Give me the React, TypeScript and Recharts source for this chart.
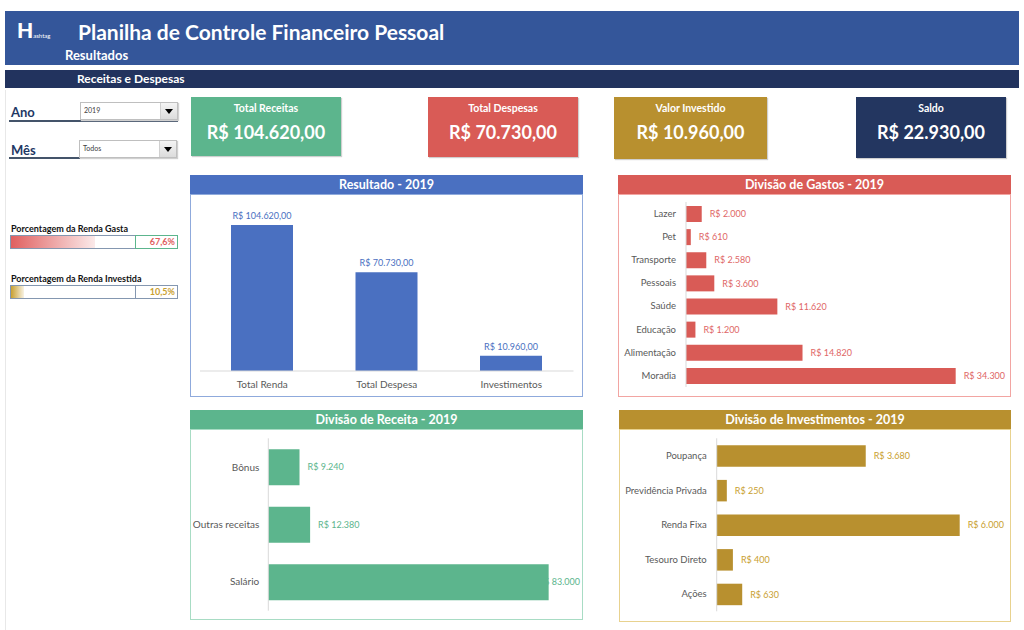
import { BarChart, Bar, XAxis, YAxis, LabelList } from "recharts";

const FONT = "Lato, 'Open Sans', sans-serif";

const resultCategories = ["Total Renda", "Total Despesa", "Investimentos"];
const resultValues = [104620, 70730, 10960];

const expenseCategories = ["Lazer", "Pet", "Transporte", "Pessoais", "Saúde", "Educação", "Alimentação", "Moradia"];
const expenseValues = [2000, 610, 2580, 3600, 11620, 1200, 14820, 34300];

const incomeCategories = ["Bônus", "Outras receitas", "Salário"];
const incomeValues = [9240, 12380, 83000];

const investCategories = ["Poupança", "Previdência Privada", "Renda Fixa", "Tesouro Direto", "Ações"];
const investValues = [3680, 250, 6000, 400, 630];

const kpiTitles = ["Total Receitas", "Total Despesas", "Valor Investido", "Saldo"];
const kpiValues = [104620, 70730, 10960, 22930];

const shareTitles = ["Porcentagem da Renda Gasta", "Porcentagem da Renda Investida"];
const shareValues = [67.6, 10.5];

const GREEN = "#5CB58D";
const RED = "#D95B56";
const GOLD = "#B8902F";
const NAVY = "#233660";
const BLUE = "#4A70C1";
const AXIS_TEXT = "#595959";

function brl(v: number, cents = false) {
  const s = String(Math.round(v)).replace(/\B(?=(\d{3})+(?!\d))/g, ".");
  return "R$ " + s + (cents ? ",00" : "");
}

const toRows = (cats: string[], vals: number[]) => cats.map((name, i) => ({ name, value: vals[i] }));

function Panel({ left, top, width, height, color, border, title, children }: any) {
  return (
    <div style={{ position: "absolute", left, top, width, height }}>
      <div
        style={{
          height: 19,
          background: color,
          color: "#fff",
          fontWeight: 700,
          fontSize: 12.5,
          textAlign: "center",
          lineHeight: "19px",
        }}
      >
        {title}
      </div>
      <div
        style={{
          position: "absolute",
          left: 0,
          top: 19,
          width: width - 2,
          height: height - 21,
          border: `1px solid ${border}`,
        }}
      />
      <div style={{ position: "absolute", left: 0, top: 19 }}>{children}</div>
    </div>
  );
}

// value label to the right of the bar; pushed back inside when it would leave the box
function ClampedLabel(props: any) {
  const { x, y, width, height, value, fill, limit } = props;
  const text = brl(value);
  const estW = text.length * 4.6;
  let tx = x + width + 8;
  if (tx + estW > limit) tx = limit - estW;
  return (
    <text x={tx} y={y + height / 2} dy="0.35em" fill={fill} fontSize={9} fontFamily={FONT}>
      {text}
    </text>
  );
}

function TopLabel(props: any) {
  const { x, y, width, value } = props;
  return (
    <text x={x + width / 2} y={y - 6} textAnchor="middle" fill={BLUE} fontSize={9} fontFamily={FONT}>
      {brl(value, true)}
    </text>
  );
}

function CatTick({ x, y, payload, size }: any) {
  return (
    <text x={x} y={y} dy="0.35em" textAnchor="end" fill={AXIS_TEXT} fontSize={size} fontFamily={FONT}>
      {payload.value}
    </text>
  );
}

function HBar({ data, width, height, margin, yWidth, tickMargin, max, color, labelColor, barSize, tickSize, limit }: any) {
  return (
    <BarChart width={width} height={height} data={data} layout="vertical" margin={margin}>
      <XAxis type="number" hide domain={[0, max]} />
      <YAxis
        type="category"
        dataKey="name"
        width={yWidth}
        tickSize={0}
        tickMargin={tickMargin}
        tickLine={false}
        axisLine={{ stroke: "#D9D9D9" }}
        tick={(p: any) => <CatTick {...p} size={tickSize} />}
        interval={0}
      />
      <Bar dataKey="value" fill={color} barSize={barSize} isAnimationActive={false}>
        <LabelList dataKey="value" content={(p: any) => <ClampedLabel {...p} fill={labelColor} limit={limit} />} />
      </Bar>
    </BarChart>
  );
}

function Dropdown({ left, top, width, text }: any) {
  return (
    <div
      style={{
        position: "absolute",
        left,
        top,
        width,
        height: 16,
        border: "1px solid #BFBFBF",
        boxShadow: "1px 1px 1px #D0D0D0",
        background: "#fff",
      }}
    >
      <span style={{ position: "absolute", left: 3, top: 3, fontSize: 7, color: "#404040" }}>{text}</span>
      <div
        style={{
          position: "absolute",
          right: 0,
          top: 0,
          width: 16,
          height: 16,
          background: "linear-gradient(#f4f4f4, #dcdcdc)",
          borderLeft: "1px solid #d0d0d0",
        }}
      >
        <div
          style={{
            position: "absolute",
            left: 4,
            top: 6,
            width: 0,
            height: 0,
            borderLeft: "4px solid transparent",
            borderRight: "4px solid transparent",
            borderTop: "5px solid #000",
          }}
        />
      </div>
    </div>
  );
}

function ShareBar({ top, title, value, color, cellBorder }: any) {
  return (
    <div style={{ position: "absolute", left: 10, top }}>
      <div style={{ fontSize: 9, fontWeight: 700, color: "#111", marginLeft: 1, height: 12, lineHeight: "12px" }}>
        {title}
      </div>
      <div
        style={{
          position: "relative",
          width: 166,
          height: 12,
          border: "1px solid #8497B0",
          background: "#fff",
        }}
      >
        <div
          style={{
            position: "absolute",
            left: 0,
            top: 0,
            height: 12,
            width: (value / 100) * 124,
            background: `linear-gradient(90deg, ${color}, ${color}22)`,
          }}
        />
        <div
          style={{
            position: "absolute",
            left: 124,
            top: -1,
            width: 39,
            height: 12,
            border: `1px solid ${cellBorder}`,
            textAlign: "right",
            fontSize: 9,
            fontWeight: 700,
            lineHeight: "12px",
            color,
            paddingRight: 2,
            boxSizing: "content-box",
          }}
        >
          {value.toFixed(1).replace(".", ",")}%
        </div>
      </div>
    </div>
  );
}

export default function App() {
  const kpis = [
    { left: 191, top: 97, w: 150, h: 59, bg: GREEN },
    { left: 428, top: 97, w: 150, h: 60, bg: RED },
    { left: 614, top: 97, w: 153, h: 62, bg: GOLD },
    { left: 856, top: 97, w: 150, h: 61, bg: NAVY },
  ];

  return (
    <div
      style={{
        position: "absolute",
        left: 0,
        top: 0,
        width: 1024,
        height: 630,
        background: "#fff",
        fontFamily: FONT,
        overflow: "hidden",
      }}
    >
      {/* header */}
      <div style={{ position: "absolute", left: 5, top: 11, width: 1014, height: 54, background: "#34569A" }}>
        <div style={{ position: "absolute", left: 12, top: 8, color: "#fff", fontWeight: 900, fontSize: 21, lineHeight: "22px" }}>
          H<span style={{ fontSize: 6, fontWeight: 400 }}>ashtag</span>
        </div>
        <div style={{ position: "absolute", left: 73, top: 8, color: "#fff", fontWeight: 700, fontSize: 21, lineHeight: "26px" }}>
          Planilha de Controle Financeiro Pessoal
        </div>
        <div style={{ position: "absolute", left: 60, top: 36, color: "#fff", fontWeight: 700, fontSize: 13, lineHeight: "16px" }}>
          Resultados
        </div>
      </div>
      <div style={{ position: "absolute", left: 5, top: 70, width: 1014, height: 18, background: "#22335E" }}>
        <div style={{ position: "absolute", left: 72, top: 1, color: "#fff", fontWeight: 700, fontSize: 12, lineHeight: "16px" }}>
          Receitas e Despesas
        </div>
      </div>
      <div style={{ position: "absolute", left: 5, top: 90, width: 1, height: 540, background: "#E8E8E8" }} />

      {/* filters */}
      <div style={{ position: "absolute", left: 11, top: 104, fontSize: 13, fontWeight: 700, color: "#1F3864" }}>Ano</div>
      <div style={{ position: "absolute", left: 9, top: 120, width: 169, height: 1.5, background: "#44546A" }} />
      <Dropdown left={80} top={102} width={96} text="2019" />
      <div style={{ position: "absolute", left: 11, top: 142, fontSize: 13, fontWeight: 700, color: "#1F3864" }}>Mês</div>
      <div style={{ position: "absolute", left: 9, top: 157, width: 169, height: 1.5, background: "#44546A" }} />
      <Dropdown left={79} top={140} width={96} text="Todos" />

      <ShareBar top={223} title={shareTitles[0]} value={shareValues[0]} color="#E06060" cellBorder="#5CB58D" />
      <ShareBar top={273} title={shareTitles[1]} value={shareValues[1]} color="#C9A030" cellBorder="#8497B0" />

      {/* KPI cards */}
      {kpis.map((k, i) => (
        <div
          key={kpiTitles[i]}
          style={{
            position: "absolute",
            left: k.left,
            top: k.top,
            width: k.w,
            height: k.h,
            background: k.bg,
            color: "#fff",
            textAlign: "center",
            boxShadow: "1px 1px 1px #cfcfcf",
          }}
        >
          <div style={{ marginTop: 4, fontSize: 10.5, fontWeight: 700, lineHeight: "14px" }}>{kpiTitles[i]}</div>
          <div style={{ marginTop: 5, fontSize: 18, fontWeight: 700, lineHeight: "24px" }}>{brl(kpiValues[i], true)}</div>
        </div>
      ))}

      {/* Resultado */}
      <Panel left={190} top={175} width={393} height={222} color="#4A70C1" border="#8FAADC" title="Resultado - 2019">
        <BarChart
          width={393}
          height={203}
          data={toRows(resultCategories, resultValues)}
          margin={{ top: 9.5, right: 9.5, bottom: 6, left: 10 }}
        >
          <XAxis
            dataKey="name"
            height={20}
            tickLine={false}
            tickMargin={4}
            axisLine={{ stroke: "#D9D9D9" }}
            tick={{ fill: AXIS_TEXT, fontSize: 10, fontFamily: FONT }}
          />
          <YAxis hide domain={[0, 120000]} />
          <Bar dataKey="value" fill={BLUE} barSize={62} isAnimationActive={false}>
            <LabelList dataKey="value" content={(p: any) => <TopLabel {...p} />} />
          </Bar>
        </BarChart>
      </Panel>

      {/* Gastos */}
      <Panel left={618} top={175} width={393} height={222} color={RED} border="#F2A5A2" title="Divisão de Gastos - 2019">
        <HBar
          data={toRows(expenseCategories, expenseValues)}
          width={393}
          height={203}
          margin={{ top: 8, right: 10.5, bottom: 10, left: 8 }}
          yWidth={60}
          tickMargin={10}
          max={40000}
          color={RED}
          labelColor="#E06666"
          barSize={16}
          tickSize={9.5}
          limit={390}
        />
      </Panel>

      {/* Receita */}
      <Panel left={190} top={410} width={393} height={210} color={GREEN} border="#A8DCC4" title="Divisão de Receita - 2019">
        <HBar
          data={toRows(incomeCategories, incomeValues)}
          width={393}
          height={191}
          margin={{ top: 9.3, right: 10.7, bottom: 9.3, left: 8 }}
          yWidth={70.3}
          tickMargin={9}
          max={90000}
          color={GREEN}
          labelColor={GREEN}
          barSize={36}
          tickSize={10}
          limit={390}
        />
      </Panel>

      {/* Investimentos */}
      <Panel left={619} top={410} width={392} height={212} color={GOLD} border="#E8D28F" title="Divisão de Investimentos - 2019">
        <HBar
          data={toRows(investCategories, investValues)}
          width={392}
          height={193}
          margin={{ top: 9.3, right: 10.8, bottom: 10.7, left: 7.7 }}
          yWidth={90}
          tickMargin={10}
          max={7000}
          color={GOLD}
          labelColor="#C9A030"
          barSize={21.5}
          tickSize={9.5}
          limit={390}
        />
      </Panel>
    </div>
  );
}
